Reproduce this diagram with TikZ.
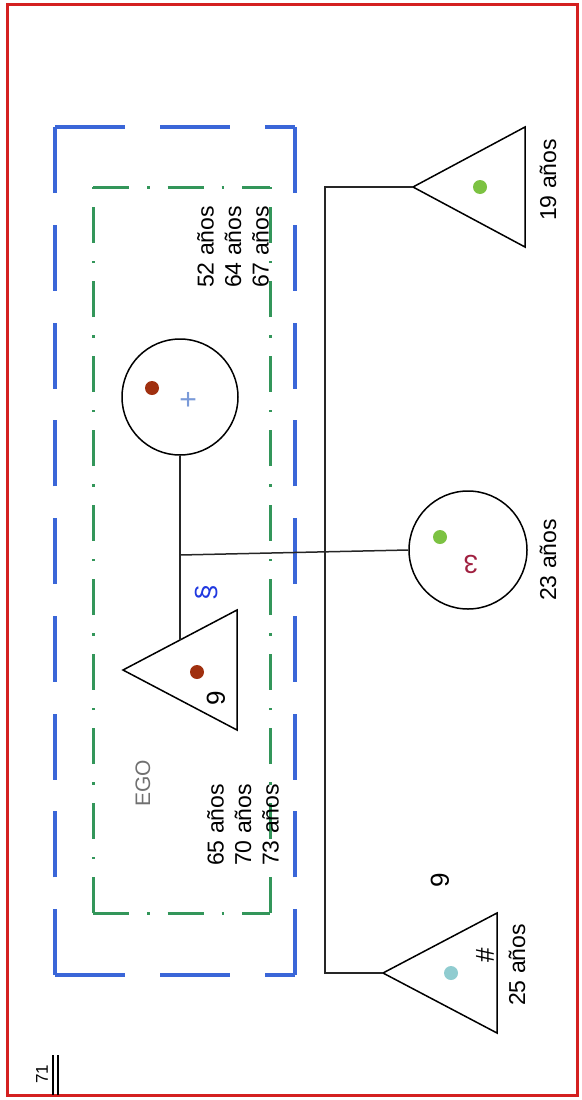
\documentclass[tikz,border=0pt]{standalone}
\usepackage{fontspec}
\setmainfont{Liberation Sans}
\definecolor{borderred}{HTML}{D42020}
\definecolor{egoblue}{HTML}{3A66D8}
\definecolor{egogreen}{HTML}{33965A}
\definecolor{dotbrown}{HTML}{A0300F}
\definecolor{dotgreen}{HTML}{7CC242}
\definecolor{dotteal}{HTML}{90CCD0}
\definecolor{plusblue}{HTML}{7A9AD8}
\definecolor{glyphblue}{HTML}{2038E0}
\definecolor{glyphred}{HTML}{A02040}
\definecolor{egogray}{HTML}{707070}
\begin{document}
\begin{tikzpicture}[x=1pt,y=-1pt,
  lbl/.style={rotate=90, font=\fontsize{23}{27.5}\selectfont, align=left, inner sep=0pt},
  glyph/.style={rotate=90, font=\fontsize{26}{26}\selectfont, inner sep=0pt},
  ln/.style={line width=1.5pt, draw=black!85},
  shapeline/.style={line width=1.5pt, draw=black},
  dot/.style={circle, inner sep=0pt, minimum size=14pt},
  person/.style={draw, line width=1.5pt, circle, inner sep=0pt, minimum size=116pt},
  bluedashh/.style={draw=egoblue, line width=3.2pt, dash pattern=on 70pt off 35pt},
  bluedashv/.style={draw=egoblue, line width=3.2pt, dash pattern=on 66pt off 31.75pt},
  greendash/.style={draw=egogreen, line width=3pt, dash pattern=on 36pt off 18pt on 2.5pt off 18pt},
]
\useasboundingbox (0,0) rectangle (581,1100);
% frame
\draw[draw=borderred, line width=3pt] (7,4) rectangle (577,1095);
% blue dashed box
\draw[bluedashh] (55,127) -- (295,127);
\draw[bluedashh] (55,975) -- (295,975);
\draw[bluedashv] (55,975) -- (55,127);
\draw[bluedashv] (295,975) -- (295,127);
% green dash-dot box
\draw[greendash] (93,187) -- (270,187);
\draw[greendash] (93,913) -- (270,913);
\draw[greendash] (93,913) -- (93,187);
\draw[greendash] (270,913) -- (270,187);

% persons
\node[person] (wife) at (180,397) {};
\node[person, minimum size=118pt] (dau) at (468,550) {};
\coordinate (egoA) at (123,670);
\coordinate (egoTop) at (180,640);
\draw[shapeline] (egoA) -- (237,610) -- (237,730) -- cycle;
\coordinate (sonA) at (413,187);
\draw[shapeline] (sonA) -- (525,127) -- (525,247) -- cycle;
\coordinate (oldA) at (383,973);
\draw[shapeline] (oldA) -- (497,913) -- (497,1033) -- cycle;

% connectors
\coordinate (kids) at (180,555);
\coordinate (sib1) at (325,187);
\coordinate (sib2) at (325,973);
\draw[ln] (wife.south) -- (egoTop);
\draw[ln] (kids) -- (dau.west);
\draw[ln] (sonA) -- (sib1) -- (sib2) -- (oldA);

% dots and symbols
\node[dot, fill=dotbrown] (wdot) at (152,388) {};
\node[glyph, text=plusblue, font=\fontsize{30}{30}\selectfont] (wplus) at (190,400) {+};
\node[dot, fill=dotbrown] (edot) at (197,672) {};
\node[glyph] (eglyph) at (216,698) {9};
\node[glyph, text=glyphblue, font=\fontsize{28}{28}\selectfont] (bglyph) at (207,593) {\S};
\node[dot, fill=dotgreen] (ddot) at (440,537) {};
\node[glyph, text=glyphred, rotate=90] (dglyph) at (471,564) {3};
\node[dot, fill=dotgreen] (sdot) at (480,187) {};
\node[dot, fill=dotteal] (odot) at (451,973) {};
\node[glyph] (ohash) at (485,955) {\#};
\node[glyph] (oglyph) at (440,880) {9};

% labels
\node[lbl] (wages) at (233,247) {52 años\\64 años\\67 años};
\node[lbl] (eages) at (243,825) {65 años\\70 años\\73 años};
\node[lbl, text=egogray, font=\fontsize{21}{21}\selectfont] (ego) at (143,783) {EGO};
\node[lbl] (dage) at (548,560) {23 años};
\node[lbl] (sage) at (548,180) {19 años};
\node[lbl] (oage) at (517,965) {25 años};
\node[lbl, font=\fontsize{17}{17}\selectfont] (num) at (42,1074) {71};
\coordinate (ul1a) at (53,1055); \coordinate (ul1b) at (53,1095);
\coordinate (ul2a) at (58,1055); \coordinate (ul2b) at (58,1095);
\draw[line width=1.3pt] (ul1a) -- (ul1b);
\draw[line width=1.3pt] (ul2a) -- (ul2b);
\end{tikzpicture}
\end{document}
